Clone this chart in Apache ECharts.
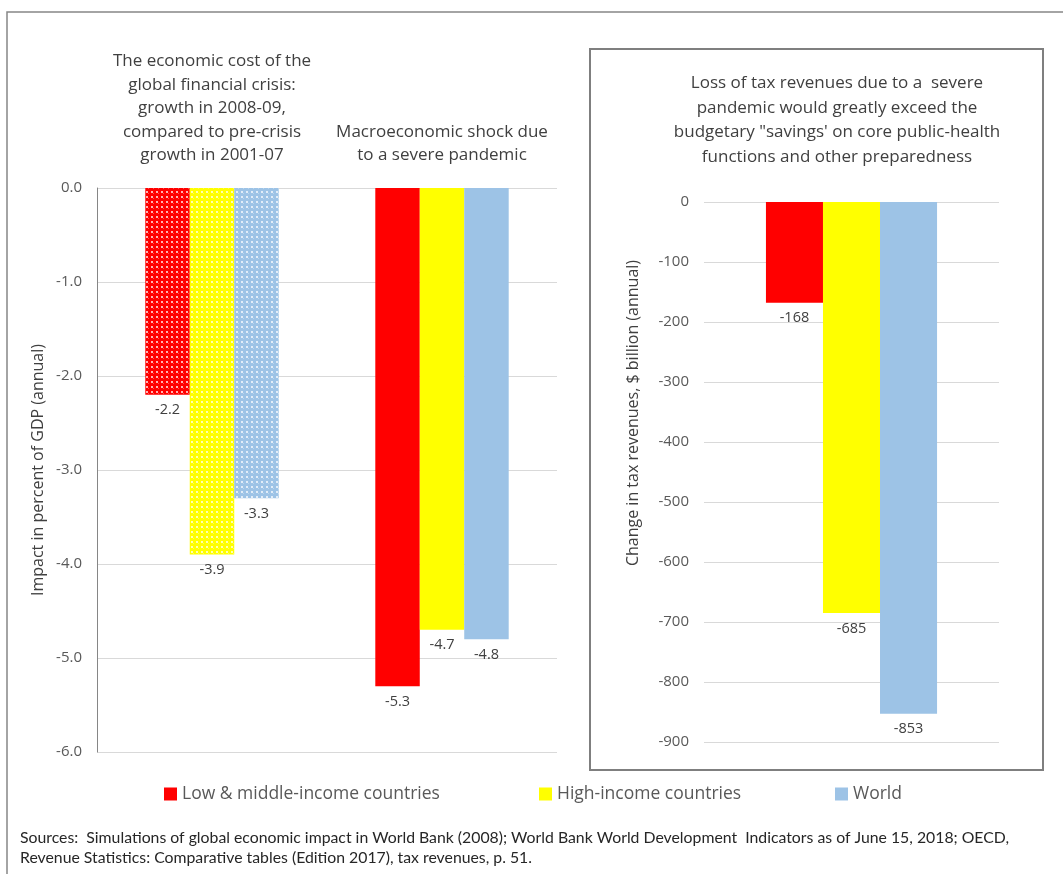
<!DOCTYPE html>
<html>
<head>
<meta charset="utf-8">
<script src="https://cdn.jsdelivr.net/npm/echarts@6/dist/echarts.min.js"></script>
<style>
  html, body { margin: 0; padding: 0; background: #fff; }
  #chart { width: 1063px; height: 874px; }
</style>
</head>
<body>
<div id="chart"></div>
<script>
// categories of the left panel
var categories = [
  'The economic cost of the\nglobal financial crisis:\ngrowth in 2008-09,\ncompared to pre-crisis\ngrowth in 2001-07',
  'Macroeconomic shock due\nto a severe pandemic'
];
var seriesNames = ['Low & middle-income countries', 'High-income countries', 'World'];
// impact in percent of GDP
var lowMidGdp = [-2.2, -5.3];
var highIncGdp = [-3.9, -4.7];
var worldGdp = [-3.3, -4.8];
// change in tax revenues, $ billion
var taxCategories = [''];
var lowMidTax = [-168];
var highIncTax = [-685];
var worldTax = [-853];

var colors = ['#ff0000', '#ffff00', '#9dc3e6'];
var font = '"Open Sans", Lato, sans-serif';

// dotted fill used for the crisis bars
function makePattern(base) {
  var c = document.createElement('canvas');
  c.width = 5; c.height = 5;
  var ctx = c.getContext('2d');
  ctx.fillStyle = base;
  ctx.fillRect(0, 0, 5, 5);
  ctx.fillStyle = 'rgba(255,255,255,0.7)';
  ctx.fillRect(1, 1, 2, 2);
  ctx.fillStyle = 'rgba(255,255,255,0.3)';
  ctx.fillRect(3, 3, 1, 1);
  return { image: c, repeat: 'repeat' };
}

function leftData(values, idx) {
  return values.map(function (v, i) {
    if (i === 0) {
      return { value: v, itemStyle: { color: makePattern(colors[idx]) } };
    }
    return v;
  });
}

var labelStyle = {
  show: true,
  position: 'bottom',
  distance: 8,
  color: '#404040',
  fontSize: 14.5,
  fontFamily: font
};

var series = [];
[lowMidGdp, highIncGdp, worldGdp].forEach(function (arr, i) {
  series.push({
    name: seriesNames[i],
    type: 'bar',
    xAxisIndex: 0,
    yAxisIndex: 0,
    barGap: 0,
    barCategoryGap: '42%',
    itemStyle: { color: colors[i] },
    label: Object.assign({}, labelStyle, {
      formatter: function (p) { return p.value.toFixed(1); }
    }),
    data: leftData(arr, i)
  });
});
[lowMidTax, highIncTax, worldTax].forEach(function (arr, i) {
  series.push({
    name: seriesNames[i],
    type: 'bar',
    xAxisIndex: 1,
    yAxisIndex: 1,
    barGap: 0,
    barCategoryGap: '42%',
    itemStyle: { color: colors[i] },
    label: Object.assign({}, labelStyle, {
      formatter: function (p) { return String(p.value); }
    }),
    data: arr
  });
});

function legendAt(x, name) {
  return {
    left: x,
    top: 785,
    padding: 0,
    data: [name],
    icon: 'rect',
    itemWidth: 13,
    itemHeight: 13,
    selectedMode: false,
    textStyle: { color: '#595959', fontSize: 17.5, fontFamily: font }
  };
}

var myChart = echarts.init(document.getElementById('chart'));
myChart.setOption({
  animation: false,
  backgroundColor: '#fff',
  title: {
    text: 'Loss of tax revenues due to a  severe\npandemic would greatly exceed the\nbudgetary "savings\' on core public-health\nfunctions and other preparedness',
    left: 832,
    top: 66,
    textAlign: 'center',
    textStyle: {
      color: '#404040',
      fontSize: 17,
      fontWeight: 'normal',
      fontFamily: font,
      lineHeight: 24.5
    }
  },
  legend: [
    legendAt(164, seriesNames[0]),
    legendAt(539, seriesNames[1]),
    legendAt(835, seriesNames[2])
  ],
  grid: [
    { left: 97, top: 188, width: 460, height: 564 },
    { left: 704, top: 202, width: 295, height: 540 }
  ],
  xAxis: [
    {
      type: 'category',
      gridIndex: 0,
      position: 'top',
      data: categories,
      axisLine: { show: false },
      axisTick: { show: false },
      axisLabel: {
        interval: 0,
        margin: 21,
        color: '#404040',
        fontSize: 17,
        fontFamily: font,
        lineHeight: 23.5,
        verticalAlign: 'bottom'
      }
    },
    {
      type: 'category',
      gridIndex: 1,
      data: taxCategories,
      axisLine: { show: false },
      axisTick: { show: false },
      axisLabel: { show: false }
    }
  ],
  yAxis: [
    {
      type: 'value',
      gridIndex: 0,
      min: -6,
      max: 0,
      interval: 1,
      axisLine: { show: true, lineStyle: { color: '#868686' } },
      axisTick: { show: false },
      splitLine: { lineStyle: { color: '#d9d9d9' } },
      axisLabel: {
        margin: 15,
        color: '#595959',
        fontSize: 15,
        fontFamily: font,
        formatter: function (v) { return v.toFixed(1); }
      }
    },
    {
      type: 'value',
      gridIndex: 1,
      min: -900,
      max: 0,
      interval: 100,
      axisLine: { show: false },
      axisTick: { show: false },
      splitLine: { lineStyle: { color: '#d9d9d9' } },
      axisLabel: {
        margin: 15,
        color: '#595959',
        fontSize: 15,
        fontFamily: font
      }
    }
  ],
  graphic: [
    {
      type: 'rect',
      shape: { x: 7, y: 12, width: 1100, height: 900 },
      style: { fill: 'none', stroke: '#868686', lineWidth: 1.5 },
      silent: true
    },
    {
      type: 'rect',
      shape: { x: 590, y: 49, width: 453, height: 721 },
      style: { fill: 'none', stroke: '#7f7f7f', lineWidth: 2 },
      silent: true
    },
    {
      type: 'text',
      x: 38,
      y: 470,
      rotation: Math.PI / 2,
      style: {
        text: 'Impact in percent of GDP (annual)',
        fill: '#404040',
        fontSize: 16,
        fontFamily: font,
        align: 'center',
        verticalAlign: 'middle'
      }
    },
    {
      type: 'text',
      x: 633,
      y: 413,
      rotation: Math.PI / 2,
      style: {
        text: 'Change in tax revenues, $ billion (annual)',
        fill: '#404040',
        fontSize: 16,
        fontFamily: font,
        align: 'center',
        verticalAlign: 'middle'
      }
    },
    {
      type: 'text',
      x: 20,
      y: 828,
      style: {
        text: 'Sources:  Simulations of global economic impact in World Bank (2008); World Bank World Development  Indicators as of June 15, 2018; OECD,\nRevenue Statistics: Comparative tables (Edition 2017), tax revenues, p. 51.',
        fill: '#262626',
        fontSize: 15.8,
        lineHeight: 20,
        fontFamily: 'Lato, sans-serif'
      }
    }
  ],
  series: series
});
</script>
</body>
</html>
